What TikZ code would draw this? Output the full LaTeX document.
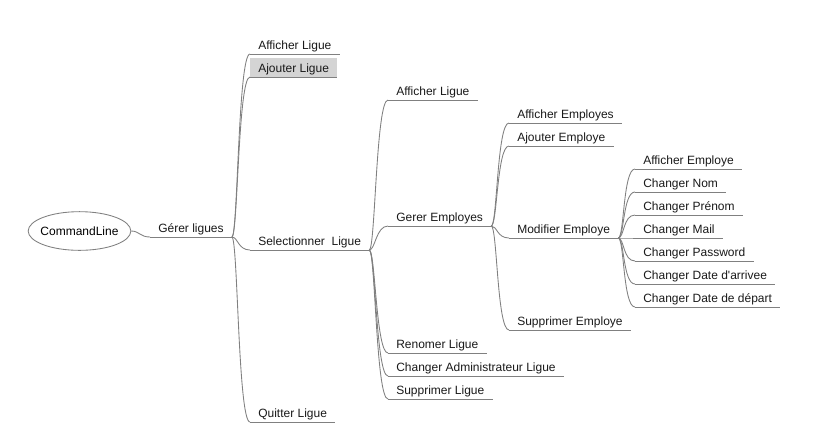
\documentclass[tikz,border=0pt]{standalone}
\usepackage{fontspec}
\setmainfont{Liberation Sans}
\usetikzlibrary{shapes.geometric}

\tikzset{
  leaf/.style={anchor=south west, inner xsep=6pt, inner ysep=1pt, text depth=2pt,
    font=\fontsize{9}{10}\selectfont, text=black!90},
  hilite/.style={fill=black!17, text height=10pt},
  uline/.style={draw=black!50, line width=0.65pt},
  branch/.style={draw=black!50, line width=0.65pt},
}
% underline of a leaf node
\newcommand{\ul}[1]{\draw[uline] (#1.south west) -- (#1.south east);}
% connector from parent to child
\newcommand{\br}[2]{\draw[branch] (#1.south east) .. controls +(6,0) and +(-12,0) .. (#2.south west);}

\begin{document}
\begin{tikzpicture}[x=0.75pt,y=0.75pt,yscale=-1,xscale=1]
\useasboundingbox (0,0) rectangle (817,437);

% Root
\node [ellipse, draw=black!50, line width=0.65pt, inner xsep=-6pt, inner ysep=0pt,
  minimum width=77pt, minimum height=29pt,
  font=\fontsize{9}{10}\selectfont] (cmd) at (79.5,231) {CommandLine};

% Level 1
\node [leaf] (gerer) at (150,237) {Gérer ligues};
\ul{gerer}
\draw[branch] (cmd.east) .. controls +(8,0) and +(-10,0) .. (gerer.south west);

% Level 2
\node [leaf] (affL) at (250,54) {Afficher Ligue};
\node [leaf, hilite] (ajoL) at (250,77) {Ajouter Ligue};
\node [leaf] (selL) at (250,250) {Selectionner\ \ Ligue};
\node [leaf] (quitL) at (250,422) {Quitter Ligue};
\foreach \n in {affL,ajoL,selL,quitL} {\ul{\n} \br{gerer}{\n}}

% Level 3
\node [leaf] (affL2) at (388,100) {Afficher Ligue};
\node [leaf] (gerE) at (388,226) {Gerer Employes};
\node [leaf] (renL) at (388,353) {Renomer Ligue};
\node [leaf] (chAdm) at (388,376) {Changer Administrateur Ligue};
\node [leaf] (supL) at (388,399) {Supprimer Ligue};
\foreach \n in {affL2,gerE,renL,chAdm,supL} {\ul{\n} \br{selL}{\n}}

% Level 4
\node [leaf] (affEs) at (509,123) {Afficher Employes};
\node [leaf] (ajoE) at (509,146) {Ajouter Employe};
\node [leaf] (modE) at (509,238) {Modifier Employe};
\node [leaf] (supE) at (509,330) {Supprimer Employe};
\foreach \n in {affEs,ajoE,modE,supE} {\ul{\n} \br{gerE}{\n}}

% Level 5
\node [leaf] (affE) at (635,169) {Afficher Employe};
\node [leaf] (chNom) at (635,192) {Changer Nom};
\node [leaf] (chPre) at (635,215) {Changer Prénom};
\node [leaf] (chMail) at (635,238) {Changer Mail};
\node [leaf] (chPwd) at (635,261) {Changer Password};
\node [leaf] (chArr) at (635,284) {Changer Date d\textquotesingle arrivee};
\node [leaf] (chDep) at (635,307) {Changer Date de départ};
\foreach \n in {affE,chNom,chPre,chMail,chPwd,chArr,chDep} {\ul{\n} \br{modE}{\n}}

\end{tikzpicture}
\end{document}
